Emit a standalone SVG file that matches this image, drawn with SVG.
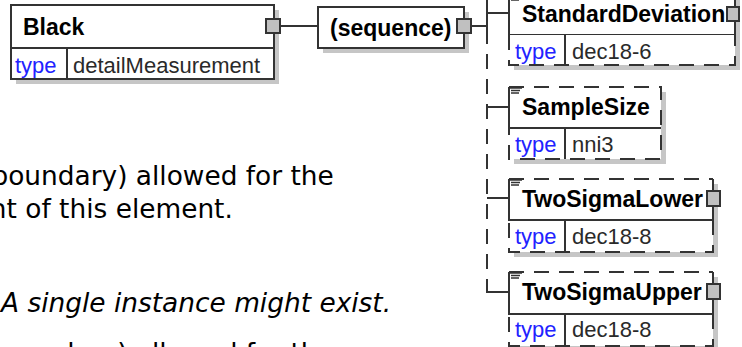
<svg xmlns="http://www.w3.org/2000/svg" width="742" height="347" viewBox="0 0 742 347">
<style>
.bg{fill:#fff}
.shadow{fill:#c6c6c6}
.box{fill:#fff;stroke:#333;stroke-width:2}
.solid{fill:none;stroke:#333;stroke-width:2}
.dash{fill:none;stroke:#333;stroke-width:2;stroke-dasharray:15 10}
.sq{fill:#c0c0c0;stroke:#333;stroke-width:2}
.icon{fill:none;stroke:#333;stroke-width:1.3}
.title{font-family:"Liberation Sans",Arial,sans-serif;font-weight:bold;font-size:23px;fill:#000}
.lbl{font-family:"Liberation Sans",Arial,sans-serif;font-size:22px}
.k{fill:#2222ff}
.v{fill:#2a2a2a}
.body{font-family:"DejaVu Sans",Verdana,sans-serif;font-size:26.4px;fill:#000}
.it{font-style:italic}
</style>
<rect class="bg" x="0" y="0" width="742" height="347"/>

<g id="connectors">
  <path class="solid" d="M280,26 H318"/>
  <path class="solid" d="M471,26 H487"/>
  <path class="solid" d="M487,-10 V44"/>
  <path class="dash" d="M487,54 V280"/>
  <path class="solid" d="M487,280 V292 H509"/>
  <path class="solid" d="M487,13 H509"/>
  <path class="solid" d="M487,107 H509"/>
  <path class="solid" d="M487,198 H509"/>
</g>

<g id="node-black">
  <rect class="shadow" x="16" y="10" width="263" height="74"/>
  <rect class="box" x="11" y="5" width="263" height="74"/>
  <path class="solid" d="M11,48 H274 M67,48 V79"/>
  <text class="title" x="23" y="35">Black</text>
  <text class="lbl k" x="15" y="72.5">type</text>
  <text class="lbl v" x="73" y="72.5">detailMeasurement</text>
  <rect class="sq" x="266" y="19" width="14" height="14"/>
</g>

<g id="node-sequence">
  <rect class="shadow" x="323" y="12" width="146" height="41"/>
  <rect class="box" x="318" y="7" width="146" height="41"/>
  <text class="title" x="330" y="36">(sequence)</text>
  <rect class="sq" x="457" y="19" width="14" height="14"/>
</g>

<g id="node-standarddeviation">
  <rect class="shadow" x="514" y="-1" width="226" height="71"/>
  <rect class="box" x="509" y="-6" width="226" height="41"/>
  <rect class="bg" x="509" y="35" width="226" height="30"/>
  <path class="dash" d="M509,35 V65 H735 V35"/>
  <path class="solid" d="M565,35 V65"/>
  <path class="icon" d="M509,-5 H522 M511,-2.5 H520 M511,0 H519"/>
  <text class="title" x="522" y="22">StandardDeviation</text>
  <text class="lbl k" x="515" y="59">type</text>
  <text class="lbl v" x="572" y="59">dec18-6</text>
  <rect class="sq" x="727" y="7" width="12" height="14"/>
</g>

<g id="node-samplesize">
  <rect class="shadow" x="514" y="92" width="152" height="72"/>
  <rect class="bg" x="509" y="87" width="152" height="72"/>
  <path class="dash" d="M509,87 H661 V159 H509 V128"/>
  <path class="solid" d="M509,87 V128 H661 M565,128 V159"/>
  <path class="icon" d="M509,88 H522 M511,90.5 H520 M511,93 H519"/>
  <text class="title" x="522" y="115">SampleSize</text>
  <text class="lbl k" x="515" y="152">type</text>
  <text class="lbl v" x="572" y="152">nni3</text>
</g>

<g id="node-twosigmalower">
  <rect class="shadow" x="514" y="184" width="204" height="73"/>
  <rect class="bg" x="509" y="179" width="204" height="73"/>
  <path class="dash" d="M509,179 H713 M713,220 V252 H509 V220"/>
  <path class="solid" d="M509,179 V220 H713 V179 M565,220 V252"/>
  <path class="icon" d="M509,180 H522 M511,182.5 H520 M511,185 H519"/>
  <text class="title" x="522" y="207">TwoSigmaLower</text>
  <text class="lbl k" x="515" y="244">type</text>
  <text class="lbl v" x="572" y="244">dec18-8</text>
  <rect class="sq" x="707" y="191" width="13" height="15"/>
</g>

<g id="node-twosigmaupper">
  <rect class="shadow" x="514" y="277" width="204" height="74"/>
  <rect class="bg" x="509" y="272" width="204" height="74"/>
  <path class="dash" d="M509,272 H713 M713,314 V346 H509 V314"/>
  <path class="solid" d="M509,272 V314 H713 V272 M565,314 V346"/>
  <path class="icon" d="M509,273 H522 M511,275.5 H520 M511,278 H519"/>
  <text class="title" x="522" y="300">TwoSigmaUpper</text>
  <text class="lbl k" x="515" y="337">type</text>
  <text class="lbl v" x="572" y="337">dec18-8</text>
  <rect class="sq" x="707" y="284" width="13" height="15"/>
</g>

<g id="doc-text">
  <text class="body" x="-8.6" y="185">boundary) allowed for the</text>
  <text class="body" x="-10.2" y="218">nt of this element.</text>
  <text class="body it" x="1" y="312">A single instance might exist.</text>
  <text class="body" x="-8.6" y="362">boundary) allowed for the</text>
</g>
</svg>
